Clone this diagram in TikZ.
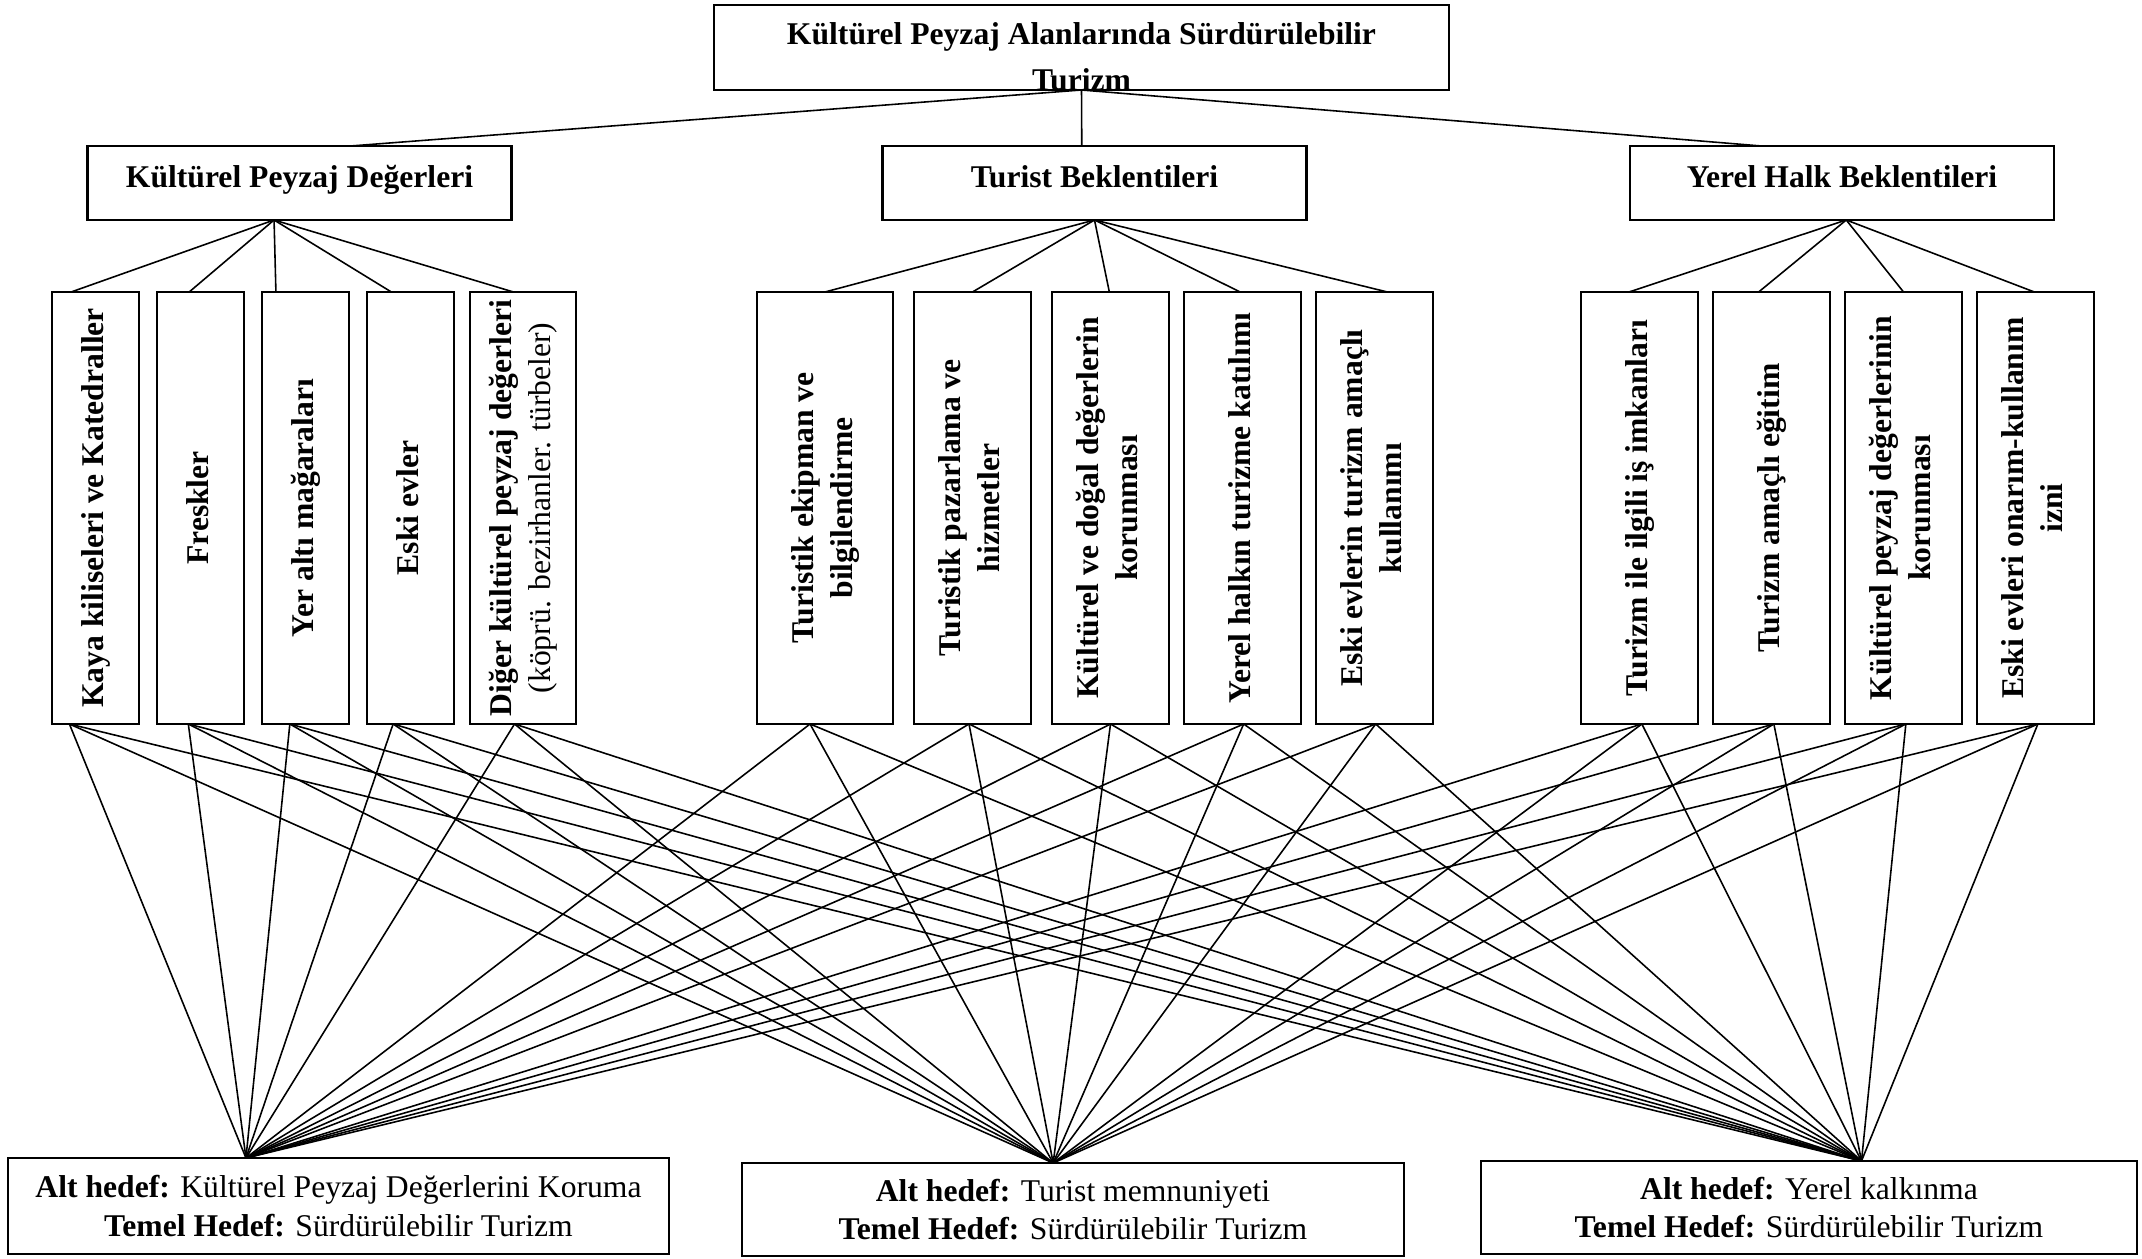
\documentclass[tikz,border=0pt]{standalone}
\usepackage{fontspec}
\setmainfont{Liberation Serif}
\usepackage{tikz}
\usetikzlibrary{positioning,calc}

\newcommand{\vtxt}[1]{\rotatebox{90}{\begin{tabular}{@{}c@{}}#1\end{tabular}}}

\begin{document}
\begin{tikzpicture}[font=\fontsize{9}{11}\selectfont,node distance=0.17cm,
   box/.style={draw,line width=0.7pt,inner sep=0pt,outer sep=0pt,align=center},
   hbox/.style={box,minimum width=4.24cm,minimum height=0.74cm,text height=4.5pt,text depth=2pt,
                font=\bfseries\fontsize{9}{11}\selectfont},
   vbox/.style={box,minimum height=4.32cm,font=\bfseries\fontsize{9}{11}\selectfont},
   goal/.style={box,minimum height=0.93cm},
   link/.style={line width=0.45pt}]
  \useasboundingbox (0,0) rectangle (21.42,-12.59);

  % main title (second line is cut by the frame)
  \node[box,minimum width=7.35cm,minimum height=0.85cm] (title) at (10.815,-0.475) {};
  \begin{scope}
    \clip (title.south west) rectangle (title.north east);
    \node[inner sep=0pt,anchor=north,align=center,font=\bfseries\fontsize{9}{13}\selectfont]
      (titletxt) at ($(title.north)+(0,-0.17)$) {Kültürel Peyzaj Alanlarında Sürdürülebilir\\Turizm};
  \end{scope}

  % second level
  \node[hbox] (kpd) at (2.995,-1.83) {Kültürel Peyzaj Değerleri};
  \node[hbox] (tb) at (10.945,-1.83) {Turist Beklentileri};
  \node[hbox] (yhb) at (18.42,-1.83) {Yerel Halk Beklentileri};

  % third level: cultural landscape values
  \node[vbox,minimum width=0.87cm] (k1) at (0.955,-5.08) {\vtxt{Kaya kiliseleri ve Katedraller}};
  \node[vbox,minimum width=0.87cm,right=0.18cm of k1] (k2) {\vtxt{Freskler}};
  \node[vbox,minimum width=0.87cm,right=0.18cm of k2] (k3) {\vtxt{Yer altı mağaraları}};
  \node[vbox,minimum width=0.87cm,right=0.18cm of k3] (k4) {\vtxt{Eski evler}};
  \node[vbox,minimum width=1.06cm,right=0.16cm of k4] (k5) {\vtxt{Diğer kültürel peyzaj değerleri\\{\mdseries (köprü. bezirhanler. türbeler)}}};

  % third level: tourist expectations
  \node[vbox,minimum width=1.36cm] (t1) at (8.25,-5.08) {\vtxt{Turistik ekipman ve\\bilgilendirme}};
  \node[vbox,minimum width=1.17cm,right=0.21cm of t1] (t2) {\vtxt{Turistik pazarlama ve\\hizmetler}};
  \node[vbox,minimum width=1.17cm,right=0.21cm of t2] (t3) {\vtxt{Kültürel ve doğal değerlerin\\korunması}};
  \node[vbox,minimum width=1.17cm,right=0.15cm of t3] (t4) {\vtxt{Yerel halkın turizme katılımı}};
  \node[vbox,minimum width=1.17cm,right=0.15cm of t4] (t5) {\vtxt{Eski evlerin turizm amaçlı\\kullanımı}};

  % third level: local people expectations
  \node[vbox,minimum width=1.17cm] (y1) at (16.395,-5.08) {\vtxt{Turizm ile ilgili iş imkanları}};
  \node[vbox,minimum width=1.17cm,right=0.15cm of y1] (y2) {\vtxt{Turizm amaçlı eğitim}};
  \node[vbox,minimum width=1.17cm,right=0.15cm of y2] (y3) {\vtxt{Kültürel peyzaj değerlerinin\\korunması}};
  \node[vbox,minimum width=1.17cm,right=0.15cm of y3] (y4) {\vtxt{Eski evleri onarım-kullanım\\izni}};

  % goals
  \node[goal,minimum width=6.61cm,minimum height=0.96cm] (g1) at (3.385,-12.06)
    {\textbf{Alt hedef:} Kültürel Peyzaj Değerlerini Koruma\\\textbf{Temel Hedef:} Sürdürülebilir Turizm};
  \node[goal,minimum width=6.62cm] (g2) at (10.73,-12.095)
    {\textbf{Alt hedef:} Turist memnuniyeti\\\textbf{Temel Hedef:} Sürdürülebilir Turizm};
  \node[goal,minimum width=6.56cm] (g3) at (18.09,-12.075)
    {\textbf{Alt hedef:} Yerel kalkınma\\\textbf{Temel Hedef:} Sürdürülebilir Turizm};

  % attachment points
  \foreach \b/\t/\s in {k1/.22/.20,k2/.37/.36,k3/.16/.32,k4/.28/.30,k5/.41/.42,
                        t1/.50/.39,t2/.50/.47,t3/.49/.50,t4/.48/.51,t5/.61/.51,
                        y1/.41/.52,y2/.39/.52,y3/.50/.52,y4/.49/.52}{
    \coordinate (\b-t) at ($(\b.north west)!\t!(\b.north east)$);
    \coordinate (\b-s) at ($(\b.south west)!\s!(\b.south east)$);
  }
  \foreach \p/\t/\s in {kpd/.62/.44,tb/.47/.50,yhb/.31/.51}{
    \coordinate (\p-t) at ($(\p.north west)!\t!(\p.north east)$);
    \coordinate (\p-s) at ($(\p.south west)!\s!(\p.south east)$);
  }
  \foreach \g/\f in {g1/.36,g2/.47,g3/.58}
    \coordinate (\g-t) at ($(\g.north west)!\f!(\g.north east)$);

  % connectors
  \foreach \p in {kpd,tb,yhb}
    \draw[link] (title.south) -- (\p-t);
  \foreach \b in {k1,k2,k3,k4,k5}
    \draw[link] (kpd-s) -- (\b-t);
  \foreach \b in {t1,t2,t3,t4,t5}
    \draw[link] (tb-s) -- (\b-t);
  \foreach \b in {y1,y2,y3,y4}
    \draw[link] (yhb-s) -- (\b-t);
  \foreach \b in {k1,k2,k3,k4,k5,t1,t2,t3,t4,t5,y1,y2,y3,y4}
    \foreach \g in {g1,g2,g3}
      \draw[link] (\b-s) -- (\g-t);
\end{tikzpicture}
\end{document}
